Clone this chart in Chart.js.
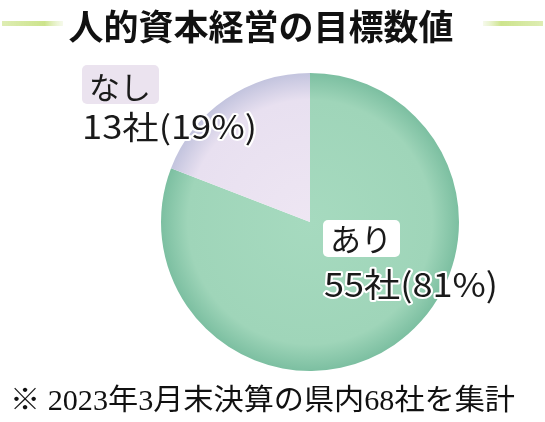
<!DOCTYPE html>
<html><head><meta charset="utf-8">
<script src="https://cdn.jsdelivr.net/npm/chart.js@4"></script>
<style>html,body{margin:0;padding:0;background:#fff}#w{width:545px;height:422px;position:relative}</style>
</head><body><div id="w"><canvas id="c"></canvas></div>
<script>
const title = "人的資本経営の目標数値";
const footnote = "※ 2023年3月末決算の県内68社を集計";
const categories = ["あり", "なし"];
const companies = [55, 13];
const percents = [81, 19];
const unit = "社";

const JP = '"Noto Sans CJK JP", "Noto Sans", sans-serif';
const SERIF = '"Liberation Serif", "DejaVu Serif", "Noto Sans CJK JP", serif';

const sliceColors = [
  ['#a6dabf', '#9fd5b9', '#7cbfa1'],
  ['#eee6f3', '#e8e0f0', '#c3c4de']
];

function sliceFill(ctx) {
  const cols = sliceColors[ctx.dataIndex % sliceColors.length];
  const ch = ctx.chart;
  const a = ch.chartArea;
  if (!a) return cols[1];
  const cx = (a.left + a.right) / 2, cy = (a.top + a.bottom) / 2;
  const r = Math.min(a.right - a.left, a.bottom - a.top) / 2;
  const g = ch.ctx.createRadialGradient(cx, cy, 0, cx, cy, r);
  g.addColorStop(0, cols[0]);
  g.addColorStop(0.82, cols[1]);
  g.addColorStop(1, cols[2]);
  return g;
}

function halo(ctx, text, x, y, font, width) {
  ctx.save();
  ctx.font = font;
  const w = ctx.measureText(text).width;
  ctx.translate(x, y);
  ctx.scale(width / w, 1);
  ctx.lineJoin = 'round';
  ctx.lineWidth = 4;
  ctx.strokeStyle = '#ffffff';
  ctx.strokeText(text, 0, 0);
  ctx.fillStyle = '#1a1a1a';
  ctx.fillText(text, 0, 0);
  ctx.restore();
}

function roundBox(ctx, x, y, w, h, r, fill) {
  ctx.beginPath();
  ctx.moveTo(x + r, y);
  ctx.arcTo(x + w, y, x + w, y + h, r);
  ctx.arcTo(x + w, y + h, x, y + h, r);
  ctx.arcTo(x, y + h, x, y, r);
  ctx.arcTo(x, y, x + w, y, r);
  ctx.closePath();
  ctx.fillStyle = fill;
  ctx.fill();
}

const decor = {
  id: 'decor',
  afterDraw(chart) {
    const ctx = chart.ctx;
    ctx.save();
    // title lines
    const lg = ctx.createLinearGradient(2, 0, 63, 0);
    lg.addColorStop(0, 'rgba(200,225,130,0.6)');
    lg.addColorStop(0.7, 'rgba(205,228,140,1)');
    lg.addColorStop(1, 'rgba(225,238,190,0.3)');
    ctx.fillStyle = lg;
    ctx.fillRect(2, 21, 61, 5);
    const rg = ctx.createLinearGradient(483, 0, 543, 0);
    rg.addColorStop(0, 'rgba(225,238,190,0.3)');
    rg.addColorStop(0.3, 'rgba(205,228,140,1)');
    rg.addColorStop(1, 'rgba(200,225,130,0.6)');
    ctx.fillStyle = rg;
    ctx.fillRect(483, 21, 60, 5);
    // title
    ctx.font = 'bold 35px ' + JP;
    ctx.textAlign = 'center';
    ctx.textBaseline = 'middle';
    ctx.fillStyle = '#111';
    ctx.fillText(title, 261, 27);
    // footnote
    ctx.font = '29px ' + SERIF;
    ctx.textAlign = 'left';
    ctx.textBaseline = 'alphabetic';
    const fw = ctx.measureText(footnote).width;
    ctx.save();
    ctx.translate(10, 410);
    ctx.scale(505 / fw, 1);
    ctx.fillStyle = '#111';
    ctx.fillText(footnote, 0, 0);
    ctx.restore();

    // labels
    ctx.textAlign = 'left';
    ctx.textBaseline = 'alphabetic';
    // なし
    roundBox(ctx, 82, 65, 77, 39, 5, '#ebe3ef');
    ctx.font = '31px ' + JP;
    ctx.fillStyle = '#1a1a1a';
    ctx.fillText(categories[1], 89, 99);
    halo(ctx, companies[1] + unit + '(' + percents[1] + '%)', 82, 139, '32px ' + JP, 175);
    // あり
    roundBox(ctx, 323, 220, 77, 37, 5, '#ffffff');
    ctx.font = '31px ' + JP;
    ctx.fillStyle = '#1a1a1a';
    ctx.fillText(categories[0], 330, 251);
    halo(ctx, companies[0] + unit + '(' + percents[0] + '%)', 324, 297, '33px ' + JP, 174);
    ctx.restore();
  }
};

new Chart(document.getElementById('c'), {
  type: 'pie',
  data: {
    labels: categories,
    datasets: [{
      data: companies,
      backgroundColor: sliceFill,
      borderWidth: 0
    }]
  },
  options: {
    responsive: true,
    maintainAspectRatio: false,
    animation: false,
    layout: { padding: { top: 73, bottom: 51, left: 161, right: 86 } },
    plugins: { legend: { display: false }, tooltip: { enabled: false }, title: { display: false } }
  },
  plugins: [decor]
});
</script>
</body></html>
